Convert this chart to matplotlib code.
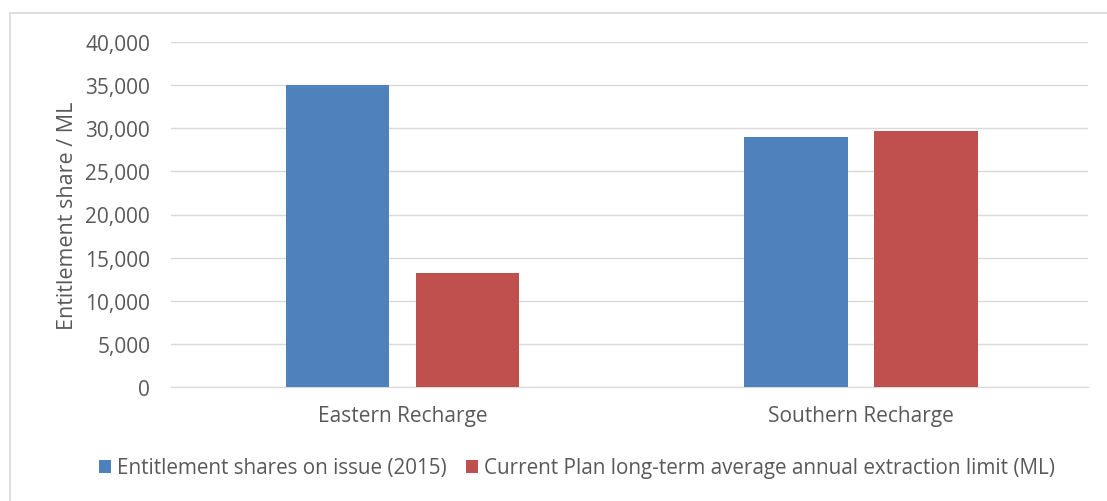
import numpy as np
import matplotlib.pyplot as plt
from matplotlib.patches import Rectangle

categories = ['Eastern Recharge', 'Southern Recharge']
shares_2015 = [35000, 28950]
extraction_limit = [13250, 29650]
series_names = ['Entitlement shares on issue (2015)',
                'Current Plan long-term average annual extraction limit (ML)']
yticks = [0, 5000, 10000, 15000, 20000, 25000, 30000, 35000, 40000]

plt.rcParams['font.family'] = ['Open Sans', 'DejaVu Sans']
txt = '#595959'

fig = plt.figure(figsize=(11.07, 5.02), dpi=100)
ax = fig.add_axes([171 / 1107, 1 - 388 / 502, 917 / 1107, 345 / 502])

# chart area border (right/bottom edges fall outside the image)
fig.patches.append(Rectangle((10 / 1107, -0.05), 1.2, 1.05 - 14 / 502,
                             transform=fig.transFigure, fill=False,
                             edgecolor='#d9d9d9', linewidth=1.2))

x = np.arange(len(categories))
w = 0.225
off = 0.1418
ax.bar(x - off, shares_2015, w, color='#4f81bd', label=series_names[0], zorder=3)
ax.bar(x + off, extraction_limit, w, color='#c0504d', label=series_names[1], zorder=3)

ax.set_xlim(-0.505, 1.495)
ax.set_ylim(0, 40000)
ax.set_yticks(yticks)
ax.set_yticklabels([f'{v:,}' for v in yticks])
ax.set_xticks(x)
ax.set_xticklabels(categories)
ax.grid(axis='y', color='#d9d9d9', linewidth=1, zorder=0)
for s in ['top', 'right', 'left']:
    ax.spines[s].set_visible(False)
ax.spines['bottom'].set_color('#d9d9d9')
ax.tick_params(axis='both', length=0, labelsize=15, colors=txt)
ax.tick_params(axis='y', pad=15)
ax.tick_params(axis='x', pad=13)
ax.set_ylabel('Entitlement share / ML', fontsize=15.5, color=txt, labelpad=5)

fig.legend(loc='center', bbox_to_anchor=(577 / 1107, 1 - 469 / 502), ncol=2,
           frameon=False, fontsize=14.9, labelcolor=txt, handlelength=0.6,
           handleheight=0.6, handletextpad=0.3, columnspacing=0.9)

fig.savefig('out.png', dpi=100)
